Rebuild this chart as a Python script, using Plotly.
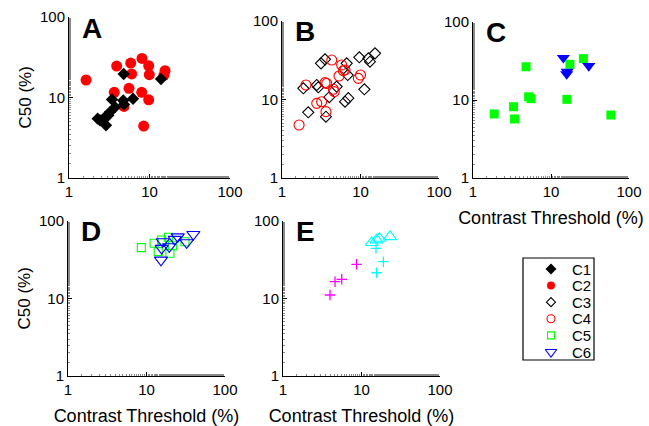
import plotly.graph_objects as go

# ---- data: contrast threshold (%) vs C50 (%) per cell class ----
a_c1_x = [4.78, 13.9, 3.42, 4.72, 6.24, 4.82, 3.73, 3.23, 2.80, 2.27, 2.43, 2.88, 3.08]
a_c1_y = [19.6, 17.0, 9.45, 9.18, 9.64, 8.2, 7.59, 6.59, 5.71, 5.46, 5.2, 4.51, 6.0]
a_c2_x = [1.63, 3.91, 5.84, 6.0, 8.07, 9.77, 9.95, 15.6, 15.1, 3.65, 5.56, 8.0, 9.77, 8.47, 4.82]
a_c2_y = [16.5, 24.6, 26.8, 19.6, 30.6, 24.8, 19.2, 21.5, 18.9, 11.6, 13.0, 11.6, 9.36, 4.42, 7.74]

b_c3_x = [1.87, 2.16, 3.14, 3.53, 2.77, 2.90, 3.63, 4.0, 4.97, 6.67, 6.87, 6.35, 7.0, 9.66, 11.2, 12.6, 13.2, 15.3]
b_c3_y = [13.9, 6.87, 28.9, 32.5, 15.3, 14.3, 6.04, 10.7, 14.6, 28.9, 20.5, 9.37, 10.4, 34.5, 13.5, 33.5, 30.3, 38.7]
b_c4_x = [1.65, 2.02, 2.77, 3.2, 3.53, 3.71, 3.63, 4.3, 4.51, 4.64, 5.32, 5.75, 6.04, 6.35, 9.38, 10.0]
b_c4_y = [4.73, 15.3, 8.93, 9.37, 16.4, 16.0, 7.0, 31.8, 13.5, 12.6, 19.9, 27.5, 23.3, 23.8, 18.6, 20.5]

c_c5_x = [1.87, 3.31, 3.41, 4.79, 5.17, 5.55, 16.0, 17.5, 26.0, 58.6]
c_c5_y = [6.62, 8.2, 5.71, 26.7, 11.0, 10.4, 10.2, 28.7, 33.9, 6.42]
c_c6_x = [14.4, 15.9, 16.1, 30.5]
c_c6_y = [34.8, 21.5, 23.1, 27.3]

d_c5_x = [8.59, 12.5, 14.1, 15.6, 19.0, 19.9, 21.5, 30.9]
d_c5_y = [45.3, 51.6, 40.2, 56.9, 61.6, 38.3, 48.0, 54.1]
d_c6_x = [15.3, 16.1, 15.6, 19.5, 25.0, 32.5, 39.5, 22.9]
d_c6_y = [31.4, 54.1, 44.5, 46.6, 62.7, 52.5, 67.3, 58.1]

e_mag_x = [3.97, 4.6, 5.6, 8.67]
e_mag_y = [11.1, 16.5, 17.7, 27.6]
e_cyan_plus_x = [15.6, 19.0, 15.3]
e_cyan_plus_y = [21.5, 29.9, 44.4]
e_cyan_tri_x = [13.5, 15.6, 16.9, 23.1]
e_cyan_tri_y = [52.5, 56.9, 59.8, 62.7]

tick_vals = [1, 10, 100]
tick_text = ["1", "10", "100"]
panel_letters = ["A", "B", "C", "D", "E"]
legend_labels = ["C1", "C2", "C3", "C4", "C5", "C6"]

W, H = 649, 426
FONT = "Liberation Sans, Arial, Helvetica, sans-serif"

# panel boxes in pixels: (left, right, top, bottom)
boxes = [
    (69, 230, 17, 178),
    (282, 439, 21, 178),
    (473, 629, 22, 178),
    (68, 225, 221, 376),
    (283, 440, 221, 376),
]

fig = go.Figure()


def xd(l, r):
    return [l / W, r / W]


def yd(t, b):
    return [1 - b / H, 1 - t / H]


def make_marker(symbol, size, color, filled, lw=1.1):
    if filled:
        return dict(symbol=symbol, size=size, color=color, line=dict(width=0))
    return dict(symbol=symbol, size=size, color=color, line=dict(color=color, width=lw))


def add(panel, x, y, symbol, size, color, filled, lw=1.1):
    suffix = "" if panel == 1 else str(panel)
    fig.add_trace(go.Scatter(
        x=x, y=y, mode="markers", marker=make_marker(symbol, size, color, filled, lw),
        xaxis="x" + suffix, yaxis="y" + suffix,
        showlegend=False, hoverinfo="skip",
    ))


# A
add(1, a_c2_x, a_c2_y, "circle", 11, "#FF0000", True)
add(1, a_c1_x, a_c1_y, "diamond", 9.5, "#000000", True)
# B
add(2, b_c3_x, b_c3_y, "diamond-open", 8.5, "#000000", False)
add(2, b_c4_x, b_c4_y, "circle-open", 10, "#FF0000", False)
# C
add(3, c_c5_x, c_c5_y, "square", 9, "#00FF00", True)
add(3, c_c6_x, c_c6_y, "triangle-down", 11.5, "#0000FF", True)
# D
add(4, d_c5_x, d_c5_y, "square-open", 8, "#00FF00", False)
add(4, d_c6_x, d_c6_y, "triangle-down-open", 11.5, "#0000FF", False)
# E
add(5, e_mag_x, e_mag_y, "cross-thin-open", 7.5, "#FF00FF", False, lw=1.3)
add(5, e_cyan_plus_x, e_cyan_plus_y, "cross-thin-open", 7.5, "#00FFFF", False, lw=1.3)
add(5, e_cyan_tri_x, e_cyan_tri_y, "triangle-up-open", 11.5, "#00FFFF", False)

layout = dict(
    width=W, height=H,
    margin=dict(l=0, r=0, t=0, b=0, autoexpand=False),
    paper_bgcolor="white", plot_bgcolor="white",
    showlegend=False,
    font=dict(family=FONT, size=15, color="black"),
)

axis_common = dict(
    type="log", range=[0, 2], tickvals=tick_vals, ticktext=tick_text,
    showgrid=False, zeroline=False, showline=True, linecolor="black", linewidth=1,
    ticks="inside", ticklen=4, tickcolor="black", tickwidth=1,
    tickfont=dict(family=FONT, size=15, color="black"),
    minor=dict(ticks="inside", ticklen=2, tickcolor="#8a8a8a", tickwidth=1, showgrid=False),
    automargin=False, fixedrange=True,
)

x_titles = {3: "Contrast Threshold (%)", 4: "Contrast Threshold (%)", 5: "Contrast Threshold (%)"}
y_titles = {1: "C50 (%)", 4: "C50 (%)"}

annotations = []
for i, (l, r, t, b) in enumerate(boxes, start=1):
    s = "" if i == 1 else str(i)
    xa = dict(axis_common, domain=xd(l, r), anchor="y" + s)
    ya = dict(axis_common, domain=yd(t, b), anchor="x" + s)
    if i in x_titles:
        xa["title"] = dict(text=x_titles[i], font=dict(family=FONT, size=18), standoff=12)
    if i in y_titles:
        # vertical axis label sits at a fixed distance left of the axis line
        annotations.append(dict(
            text=y_titles[i], textangle=-90,
            xref="paper", yref="y%s domain" % s,
            x=(l - 44) / W, y=0.5, xanchor="center", yanchor="middle", showarrow=False,
            font=dict(family=FONT, size=17, color="black"),
        ))
    layout["xaxis" + s] = xa
    layout["yaxis" + s] = ya
    annotations.append(dict(
        text="<b>%s</b>" % panel_letters[i - 1],
        xref="x%s domain" % s, yref="y%s domain" % s,
        x=0.07, y=0.93, xanchor="left", yanchor="middle", showarrow=False,
        font=dict(family=FONT, size=28, color="black"),
    ))

# legend box drawn on its own hidden axes
LL, LR, LT, LB = 523, 594, 258, 360
layout["xaxis6"] = dict(domain=xd(LL, LR), range=[0, LR - LL], visible=False, fixedrange=True, anchor="y6")
layout["yaxis6"] = dict(domain=yd(LT, LB), range=[LB - LT, 0], visible=False, fixedrange=True, anchor="x6")

legend_styles = [
    ("diamond", 8.5, "#000000", True),
    ("circle", 8, "#FF0000", True),
    ("diamond-open", 7, "#000000", False),
    ("circle-open", 8, "#FF0000", False),
    ("square-open", 7, "#00FF00", False),
    ("triangle-down-open", 10, "#0000FF", False),
]
row_y = [11 + 16.6 * k for k in range(len(legend_labels))]
for k, (sym, sz, col, filled) in enumerate(legend_styles):
    fig.add_trace(go.Scatter(x=[28], y=[row_y[k]], mode="markers",
                             marker=make_marker(sym, sz, col, filled),
                             xaxis="x6", yaxis="y6", showlegend=False, hoverinfo="skip"))
    annotations.append(dict(
        text=legend_labels[k], xref="x6", yref="y6", x=47, y=row_y[k],
        xanchor="left", yanchor="middle", showarrow=False,
        font=dict(family=FONT, size=15, color="black"),
    ))

layout["annotations"] = annotations
layout["shapes"] = [dict(type="rect", xref="x6 domain", yref="y6 domain",
                         x0=0, x1=1, y0=0, y1=1, line=dict(color="black", width=1.2))]

fig.update_layout(**layout)
fig.write_html("out.html")
